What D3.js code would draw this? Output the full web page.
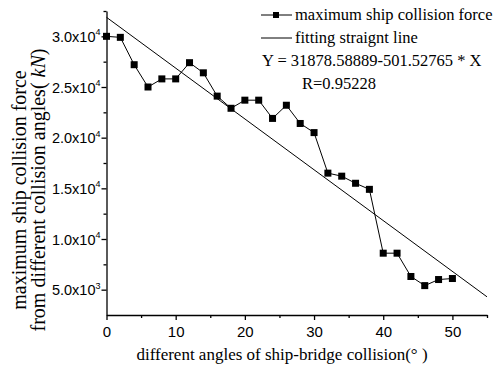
<!DOCTYPE html>
<html><head><meta charset="utf-8">
<script src="https://cdn.jsdelivr.net/npm/d3@7"></script>
<style>body{margin:0;background:#fff}svg{display:block}</style>
</head><body>
<script>
const angles = [0,2,4,6,8,10,12,14,16,18,20,22,24,26,28,30,32,34,36,38,40,42,44,46,48,50];
const forces = [30000,29900,27200,25000,25800,25800,27400,26400,24100,22900,23700,23700,21900,23200,21400,20500,16500,16200,15500,14900,8600,8600,6300,5400,6000,6100];
const fitIntercept = 31878.58889, fitSlope = -501.52765;
const xTicks = [0,10,20,30,40,50];
const xMinorTicks = [5,15,25,35,45,55];
const yTicks = [5000,10000,15000,20000,25000,30000];
const yMinorTicks = [7500,12500,17500,22500,27500,32500];
const yTickLabels = [["5.0x10","3"],["1.0x10","4"],["1.5x10","4"],["2.0x10","4"],["2.5x10","4"],["3.0x10","4"]];
const legendLabels = ["maximum ship collision force","fitting straignt line"];
const fitText = ["Y = 31878.58889-501.52765 * X","R=0.95228"];
const xTitle = "different angles of ship-bridge collision(° )";
const yTitle = ["maximum ship collision force","from different collision angles( ", "kN", ")"];

const W=496,H=368;
const serif="'Liberation Serif', 'Times New Roman', serif";
const sans="'Liberation Sans', Arial, sans-serif";
const svg=d3.select("body").append("svg").attr("width",W).attr("height",H);
const x=d3.scaleLinear().domain([0,55]).range([106.5,487]);
const y=d3.scaleLinear().domain([2500,32500]).range([315,11]);

// axes
const gx=svg.append("g").attr("transform",`translate(0,${y(2500)})`)
  .call(d3.axisBottom(x).tickValues(xTicks).tickSize(5).tickSizeOuter(0).tickFormat(d3.format("d")));
gx.selectAll("text").attr("font-family",sans).attr("font-size",15).attr("fill","#000").attr("y",22).attr("dy",0);
gx.append("g").call(d3.axisBottom(x).tickValues(xMinorTicks).tickSize(3).tickFormat("")).select(".domain").remove();
const gy=svg.append("g").attr("transform",`translate(${x(0)},0)`)
  .call(d3.axisLeft(y).tickValues(yTicks).tickSize(5).tickSizeOuter(0).tickFormat(""));
gy.append("g").call(d3.axisLeft(y).tickValues(yMinorTicks).tickSize(3).tickFormat("")).select(".domain").remove();
svg.selectAll(".domain,.tick line").attr("stroke","#000").attr("stroke-width",1.3);

const yl=svg.append("g");
yTicks.forEach((v,i)=>{
  const t=yl.append("text").attr("x",x(0)-6).attr("y",y(v)+5.5).attr("text-anchor","end")
    .attr("font-family",sans).attr("font-size",14.5);
  t.append("tspan").text(yTickLabels[i][0]);
  t.append("tspan").attr("font-size",9).attr("dy",-6.5).text(yTickLabels[i][1]);
});

// fit line
svg.append("line").attr("x1",x(0)).attr("y1",y(fitIntercept)).attr("x2",x(55)).attr("y2",y(fitIntercept+fitSlope*55))
  .attr("stroke","#000").attr("stroke-width",1);

// data line
svg.append("path").datum(angles.map((a,i)=>[a,forces[i]]))
  .attr("d",d3.line().x(d=>x(d[0])).y(d=>y(d[1]))).attr("fill","none").attr("stroke","#000").attr("stroke-width",1);
svg.selectAll("rect.pt").data(angles).enter().append("rect").attr("class","pt")
  .attr("x",(d)=>x(d)-3.5).attr("y",(d,i)=>y(forces[i])-3.5).attr("width",7).attr("height",7).attr("fill","#000");

// legend
const lg=svg.append("g");
lg.append("line").attr("x1",261).attr("x2",292).attr("y1",15).attr("y2",15).attr("stroke","#000");
lg.append("rect").attr("x",273).attr("y",12).attr("width",6).attr("height",6).attr("fill","#000");
lg.append("line").attr("x1",261).attr("x2",292).attr("y1",38).attr("y2",38).attr("stroke","#000");
lg.append("text").attr("x",295).attr("y",20).attr("font-family",serif).attr("font-size",16.5).text(legendLabels[0]);
lg.append("text").attr("x",295).attr("y",43).attr("font-family",serif).attr("font-size",16.5).text(legendLabels[1]);
lg.append("text").attr("x",262).attr("y",66).attr("font-family",serif).attr("font-size",16.5).text(fitText[0]);
lg.append("text").attr("x",302).attr("y",89).attr("font-family",serif).attr("font-size",16.5).text(fitText[1]);

// titles
svg.append("text").attr("x",282).attr("y",360).attr("text-anchor","middle").attr("font-family",serif).attr("font-size",17).text(xTitle);
const yt=svg.append("g").attr("transform","translate(0,190) rotate(-90)");
yt.append("text").attr("x",0).attr("y",26).attr("text-anchor","middle").attr("font-family",serif).attr("font-size",20).text(yTitle[0]);
const t2=yt.append("text").attr("x",0).attr("y",45).attr("text-anchor","middle").attr("font-family",serif).attr("font-size",20);
t2.append("tspan").text(yTitle[1]);
t2.append("tspan").attr("font-style","italic").text(yTitle[2]);
t2.append("tspan").text(yTitle[3]);
</script>
</body></html>
